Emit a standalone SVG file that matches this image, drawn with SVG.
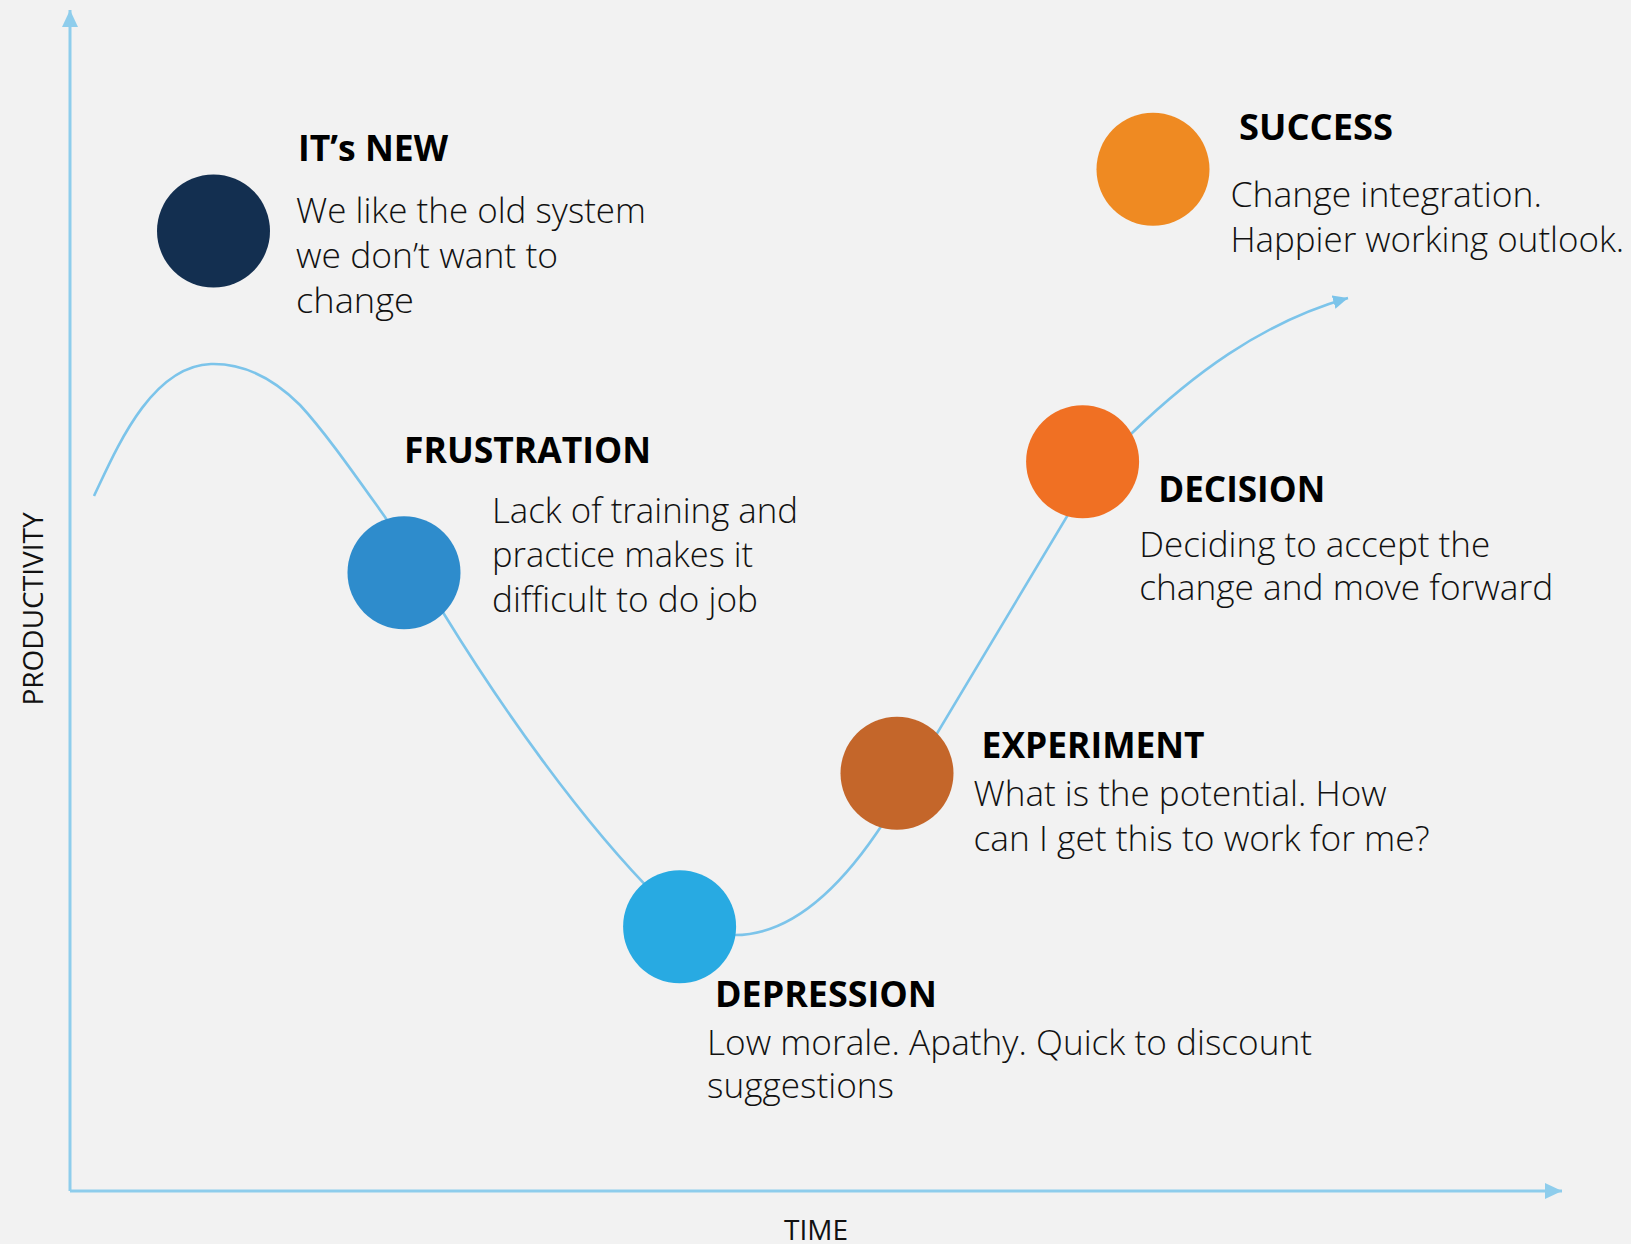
<svg xmlns="http://www.w3.org/2000/svg" width="1631" height="1244" viewBox="0 0 1631 1244">
  <style>
    .title { font-family: "Open Sans", "Noto Sans", "Liberation Sans", sans-serif; font-weight: 700; font-size: 36px; fill: #000000; }
    .body { font-family: "Open Sans", "Noto Sans", "Liberation Sans", sans-serif; font-weight: 300; font-size: 35px; fill: #111111; }
    .axis-label { font-family: "Open Sans", "Noto Sans", "Liberation Sans", sans-serif; font-weight: 400; font-size: 28px; fill: #111111; }
    .axis { stroke: #8ECDEC; stroke-width: 3; fill: none; }
    .curve { stroke: #7CC4EA; stroke-width: 2.6; fill: none; }
  </style>
  <defs>
    <marker id="axisHead" markerUnits="userSpaceOnUse" markerWidth="18" markerHeight="16" refX="17" refY="8" orient="auto">
      <path d="M0,0 L17,8 L0,16 Z" fill="#8ECDEC"/>
    </marker>
    <marker id="curveHead" markerUnits="userSpaceOnUse" markerWidth="16" markerHeight="14" refX="15" refY="7" orient="auto">
      <path d="M0,0 L15,7 L0,14 Z" fill="#7CC4EA"/>
    </marker>
  </defs>

  <rect x="0" y="0" width="1631" height="1244" fill="#F2F2F2"/>

  <!-- axes -->
  <g id="axes">
    <line class="axis" x1="70" y1="1191" x2="70" y2="10" marker-end="url(#axisHead)"/>
    <line class="axis" x1="70" y1="1191" x2="1562" y2="1191" marker-end="url(#axisHead)"/>
    <text class="axis-label" x="816" y="1240" text-anchor="middle">TIME</text>
    <text class="axis-label" transform="translate(42.5,609) rotate(-90)" text-anchor="middle">PRODUCTIVITY</text>
  </g>

  <!-- change curve -->
  <g id="connectors">
    <path class="curve" marker-end="url(#curveHead)"
      d="M 94 496
         C 115 452 150 366 211 364
         C 250 363 280 385 300 405
         C 325 432 355 475 385 517
         L 444 614
         C 500 705 580 820 660 900
         C 690 930 715 937 735 935
         C 780 935 830 905 884 822
         L 1090 478
         C 1105 462 1118 447 1132 433
         C 1190 377 1260 323 1348 298"/>
  </g>

  <!-- stages -->
  <g id="node-its-new">
    <circle cx="213.5" cy="231" r="56.5" fill="#132F50"/>
    <text class="title" x="298" y="161" textLength="150" lengthAdjust="spacingAndGlyphs">IT’s NEW</text>
    <text class="body" x="296" y="223" textLength="350" lengthAdjust="spacingAndGlyphs">We like the old system</text>
    <text class="body" x="296" y="268" textLength="262" lengthAdjust="spacingAndGlyphs">we don’t want to</text>
    <text class="body" x="296" y="313" textLength="118" lengthAdjust="spacingAndGlyphs">change</text>
  </g>

  <g id="node-frustration">
    <circle cx="404" cy="572.7" r="56.5" fill="#2E8CCC"/>
    <text class="title" x="404" y="463" textLength="247" lengthAdjust="spacingAndGlyphs">FRUSTRATION</text>
    <text class="body" x="492" y="522.7" textLength="306" lengthAdjust="spacingAndGlyphs">Lack of training and</text>
    <text class="body" x="492" y="566.7" textLength="261" lengthAdjust="spacingAndGlyphs">practice makes it</text>
    <text class="body" x="492" y="611.7" textLength="266" lengthAdjust="spacingAndGlyphs">difficult to do job</text>
  </g>

  <g id="node-depression">
    <circle cx="679.6" cy="926.7" r="56.5" fill="#28AAE2"/>
    <text class="title" x="715" y="1006.7" textLength="222" lengthAdjust="spacingAndGlyphs">DEPRESSION</text>
    <text class="body" x="707" y="1055" textLength="605" lengthAdjust="spacingAndGlyphs">Low morale. Apathy. Quick to discount</text>
    <text class="body" x="707" y="1098.3" textLength="187" lengthAdjust="spacingAndGlyphs">suggestions</text>
  </g>

  <g id="node-experiment">
    <circle cx="897" cy="773.3" r="56.5" fill="#C4662A"/>
    <text class="title" x="981.6" y="757.7" textLength="223" lengthAdjust="spacingAndGlyphs">EXPERIMENT</text>
    <text class="body" x="973.5" y="805.7" textLength="413" lengthAdjust="spacingAndGlyphs">What is the potential. How</text>
    <text class="body" x="973.5" y="851" textLength="456" lengthAdjust="spacingAndGlyphs">can I get this to work for me?</text>
  </g>

  <g id="node-decision">
    <circle cx="1082.6" cy="461.7" r="56.5" fill="#F07023"/>
    <text class="title" x="1158.2" y="501.7" textLength="167" lengthAdjust="spacingAndGlyphs">DECISION</text>
    <text class="body" x="1139.2" y="556.7" textLength="351" lengthAdjust="spacingAndGlyphs">Deciding to accept the</text>
    <text class="body" x="1139.2" y="600" textLength="414" lengthAdjust="spacingAndGlyphs">change and move forward</text>
  </g>

  <g id="node-success">
    <circle cx="1153" cy="169.3" r="56.5" fill="#EF8A22"/>
    <text class="title" x="1239" y="140" textLength="154" lengthAdjust="spacingAndGlyphs">SUCCESS</text>
    <text class="body" x="1230.4" y="206.7" textLength="311.6" lengthAdjust="spacingAndGlyphs">Change integration.</text>
    <text class="body" x="1230.4" y="251.7" textLength="393.8" lengthAdjust="spacingAndGlyphs">Happier working outlook.</text>
  </g>
</svg>
